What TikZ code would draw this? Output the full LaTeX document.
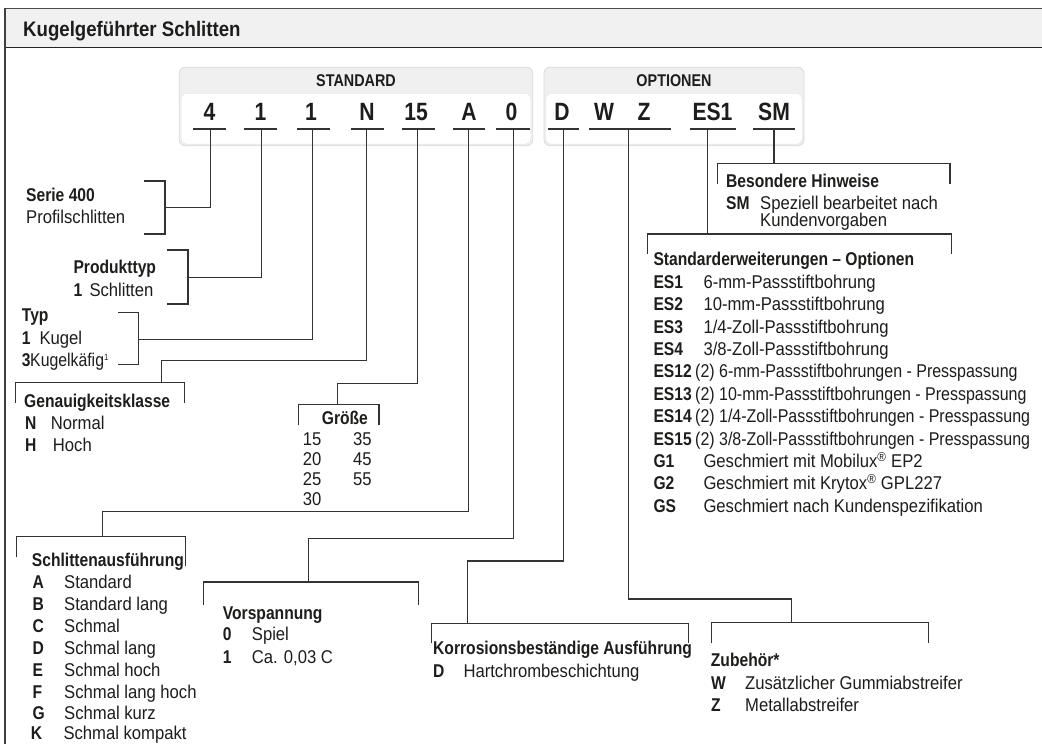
\documentclass[tikz,border=0pt]{standalone}
\usepackage{fontspec}
\usepackage{graphicx}
\setmainfont{Liberation Sans}[UprightFeatures={FakeStretch=0.9},BoldFeatures={FakeStretch=0.845}]
\definecolor{linec}{HTML}{333333}
\definecolor{txtc}{HTML}{1D1D1B}
\definecolor{bandc}{HTML}{F1F1F2}
\definecolor{panelc}{HTML}{F0F0F1}
\definecolor{panelb}{HTML}{DADADA}
\begin{document}
\begin{tikzpicture}[x=1pt,y=-1pt,
  ln/.style={draw=linec, line width=1.1pt},
  tx/.style={anchor=base west, inner sep=0pt, font=\fontsize{18.5}{21}\selectfont, text=txtc},
  hd/.style={anchor=base west, inner sep=0pt, font=\fontsize{18.5}{21}\selectfont\bfseries, text=txtc},
  cd/.style={anchor=base, inner sep=0pt, font=\fontsize{25}{28}\selectfont\bfseries, text=txtc},
  pl/.style={anchor=base, inner sep=0pt, font=\fontsize{17}{20}\selectfont\bfseries, text=txtc},
  ul/.style={draw=linec, line width=1.1pt},
  panel/.style={fill=panelc, draw=panelb, line width=0.8pt, rounded corners=6pt},
  inner/.style={fill=white, draw=panelb!60, line width=0.6pt, rounded corners=6pt}]
\useasboundingbox (0,0) rectangle (1042,744);
\fill[white] (0,0) rectangle (1042,744);
% frame and title band
\fill[bandc] (5,8.3) rectangle (1042,47);
\draw[draw=black!70, line width=1.3pt] (5,8.3) -- (1042,8.3);
\draw[draw=black!85, line width=1pt] (5,47) -- (1042,47);
\draw[draw=black!75, line width=2pt] (5,7.5) -- (5,744);
\node[anchor=base west, inner sep=0pt, font=\fontsize{21}{24}\selectfont\bfseries, text=txtc] (title) at (23,36.5) {\scalebox{1.05}[1]{Kugelgeführter Schlitten}};
% panels
\path[panel] (179.3,67.3) rectangle (532.7,145.7);
\path[inner] (181,93.3) rectangle (531,144.2);
\path[panel] (544,67.3) rectangle (804,145.7);
\path[inner] (545.7,93.3) rectangle (802.3,144.2);
\node[pl] (std) at (356,86.5) {STANDARD};
\node[pl] (opt) at (674,86.5) {OPTIONEN};
% code letters
\node[cd] (c4) at (209.5,120) {4};
\node[cd] (c1a) at (260.5,120) {1};
\node[cd] (c1b) at (311,120) {1};
\node[cd] (cN) at (367,120) {N};
\node[cd] (c15) at (416,120) {15};
\node[cd] (cA) at (469,120) {A};
\node[cd] (c0) at (511.5,120) {0};
\node[cd] (cD) at (562,120) {D};
\node[cd] (cW) at (604,120) {W};
\node[cd] (cZ) at (644,120) {Z};
\node[cd] (cES) at (712.5,120) {ES1};
\node[cd] (cSM) at (774,120) {SM};
% underlines
\draw[ul] (193,129) -- (226,129);
\draw[ul] (244,129) -- (277,129);
\draw[ul] (297,129) -- (329.5,129);
\draw[ul] (351,129) -- (383.5,129);
\draw[ul] (402,129) -- (435,129);
\draw[ul] (453,129) -- (485,129);
\draw[ul] (496,129) -- (529.5,129);
\draw[ul] (548,129) -- (579,129);
\draw[ul] (589,129) -- (671,129);
\draw[ul] (690,129) -- (736,129);
\draw[ul] (753,129) -- (795,129);
% stem coordinates
\coordinate (s4) at (210.7,129);
\coordinate (s1a) at (261.7,129);
\coordinate (s1b) at (312.7,129);
\coordinate (sN) at (366.7,129);
\coordinate (s15) at (417.7,129);
\coordinate (sA) at (468.3,129);
\coordinate (s0) at (513.3,129);
\coordinate (sD) at (563.3,129);
\coordinate (sWZ) at (628.7,129);
\coordinate (sES) at (707.7,129);
\coordinate (sSM) at (774,129);
% junction coordinates
\coordinate (jSer) at (165,207.3);
\coordinate (jPro) at (188,277.3);
\coordinate (jTyp) at (138.3,339.3);
\coordinate (jGen) at (161.7,382.3);
\coordinate (jGro) at (337.7,404.3);
\coordinate (jSch) at (102.7,536.7);
\coordinate (jVor) at (308.3,582);
\coordinate (jKor) at (467.7,623.3);
\coordinate (jZub) at (791.7,622.7);
\coordinate (jStd) at (707.7,234);
\coordinate (jBes) at (774,163.3);
% brackets
\draw[ln] (144,181) -- (165,181) -- (165,234) -- (144,234);
\draw[ln] (167,250) -- (188,250) -- (188,304) -- (167,304);
\draw[ln] (118.3,312.3) -- (138.3,312.3) -- (138.3,364.3) -- (118.3,364.3);
\draw[ln] (15.7,402.7) -- (15.7,382.3) -- (184.3,382.3) -- (184.3,402.7);
\draw[ln] (298.3,425) -- (298.3,404.3) -- (379,404.3) -- (379,425);
\draw[ln] (16.7,557.3) -- (16.7,536.7) -- (185.7,536.7) -- (185.7,566);
\draw[ln] (203.3,605) -- (203.3,582) -- (418.3,582) -- (418.3,605);
\draw[ln] (431.7,643.3) -- (431.7,623.3) -- (688.7,623.3) -- (688.7,643.3);
\draw[ln] (711.7,643.3) -- (711.7,622.7) -- (928.3,622.7) -- (928.3,643.3);
\draw[ln] (647.3,254) -- (647.3,234) -- (951.7,234) -- (951.7,254);
\draw[ln] (717.3,184) -- (717.3,163.3) -- (950,163.3) -- (950,184);
% connectors
\draw[ln] (jSer) -| (s4);
\draw[ln] (jPro) -| (s1a);
\draw[ln] (jTyp) -| (s1b);
\draw[ln] (jGen) -- (161.7,360.7) -| (sN);
\draw[ln] (jGro) -- (337.7,383.3) -| (s15);
\draw[ln] (jSch) -- (102.7,511.7) -| (sA);
\draw[ln] (jVor) -- (308.3,538.3) -| (s0);
\draw[ln] (jKor) -- (467.7,561) -| (sD);
\draw[ln] (jZub) -- (791.7,599) -| (sWZ);
\draw[ln] (jStd) -- (sES);
\draw[ln] (jBes) -- (sSM);
% Serie 400
\node[hd] (serH) at (26,201) {Serie 400};
\node[tx] (serT) at (26,223) {Profilschlitten};
% Produkttyp
\node[hd] (proH) at (73.3,273) {Produkttyp};
\node[hd] (proC) at (73.3,296.5) {1};
\node[tx] (proT) at (89.3,296.5) {Schlitten};
% Typ
\node[hd] (typH) at (21.7,321) {Typ};
\node[hd] (typC1) at (21.7,344.5) {1};
\node[tx] (typT1) at (39.3,344.5) {Kugel};
\node[hd] (typC3) at (21.7,366.5) {3};
\node[tx] (typT3) at (30,366.5) {\scalebox{0.95}[1]{Kugelkäfig\textsuperscript{\fontsize{9}{10}\selectfont 1}}};
% Genauigkeitsklasse
\node[hd] (genH) at (24,407.8) {Genauigkeitsklasse};
\node[hd] (genC1) at (25,429.5) {N};
\node[tx] (genT1) at (50.7,429.5) {Normal};
\node[hd] (genC2) at (25,451.5) {H};
\node[tx] (genT2) at (52.7,451.5) {Hoch};
% Groesse
\node[hd] (groH) at (321.7,424.5) {Größe};
\node[tx] (g15) at (302.7,445) {15};
\node[tx] (g35) at (353,445) {35};
\node[tx] (g20) at (302.7,465.3) {20};
\node[tx] (g45) at (353,465.3) {45};
\node[tx] (g25) at (302.7,485.6) {25};
\node[tx] (g55) at (353,485.6) {55};
\node[tx] (g30) at (302.7,505.9) {30};
% Schlittenausfuehrung
\node[hd] (schH) at (31.7,566) {Schlittenausführung};
\node[hd] (schCA) at (32.3,588) {A};
\node[tx] (schTA) at (64,588) {Standard};
\node[hd] (schCB) at (32.3,610) {B};
\node[tx] (schTB) at (64,610) {Standard lang};
\node[hd] (schCC) at (32.3,632) {C};
\node[tx] (schTC) at (64,632) {Schmal};
\node[hd] (schCD) at (32.3,654) {D};
\node[tx] (schTD) at (64,654) {Schmal lang};
\node[hd] (schCE) at (32.3,676) {E};
\node[tx] (schTE) at (64,676) {Schmal hoch};
\node[hd] (schCF) at (32.3,698) {F};
\node[tx] (schTF) at (64,698) {Schmal lang hoch};
\node[hd] (schCG) at (32.3,719.5) {G};
\node[tx] (schTG) at (64,719.5) {Schmal kurz};
\node[hd] (schCK) at (30.7,739) {K};
\node[tx] (schTK) at (63.3,739) {Schmal kompakt};
% Vorspannung
\node[hd] (vorH) at (222.7,619.2) {Vorspannung};
\node[hd] (vorC0) at (222.7,640.5) {0};
\node[tx] (vorT0) at (251.7,640.5) {Spiel};
\node[hd] (vorC1) at (222.7,663) {1};
\node[tx] (vorT1) at (251.7,663) {Ca. 0,03 C};
% Korrosion
\node[hd] (korH) at (433,654.8) {Korrosionsbeständige Ausführung};
\node[hd] (korC) at (433,677.5) {D};
\node[tx] (korT) at (463.3,677.5) {Hartchrombeschichtung};
% Zubehoer
\node[hd] (zubH) at (710.7,666.5) {Zubehör*};
\node[hd] (zubCW) at (711,689.8) {W};
\node[tx] (zubTW) at (745,689.8) {Zusätzlicher Gummiabstreifer};
\node[hd] (zubCZ) at (711,711.5) {Z};
\node[tx] (zubTZ) at (745,711.5) {Metallabstreifer};
% Besondere Hinweise
\node[hd] (besH) at (726,187) {Besondere Hinweise};
\node[hd] (besC) at (726,209) {SM};
\node[tx] (besT1) at (760,209) {Speziell bearbeitet nach};
\node[tx] (besT2) at (760,226.5) {Kundenvorgaben};
% Standarderweiterungen
\node[hd] (ergH) at (653.3,265.5) {Standarderweiterungen – Optionen};
\node[hd] (ergC1) at (653.3,288.2) {ES1};
\node[tx] (ergT1) at (703.3,288.2) {6-mm-Passstiftbohrung};
\node[hd] (ergC2) at (653.3,310.6) {ES2};
\node[tx] (ergT2) at (703.3,310.6) {10-mm-Passstiftbohrung};
\node[hd] (ergC3) at (653.3,333) {ES3};
\node[tx] (ergT3) at (703.3,333) {1/4-Zoll-Passstiftbohrung};
\node[hd] (ergC4) at (653.3,355.4) {ES4};
\node[tx] (ergT4) at (703.3,355.4) {3/8-Zoll-Passstiftbohrung};
\node[hd] (ergC12) at (653.3,377.8) {ES12};
\node[tx] (ergT12) at (695,377.8) {\scalebox{0.96}[1]{(2) 6-mm-Passstiftbohrungen - Presspassung}};
\node[hd] (ergC13) at (653.3,400.2) {ES13};
\node[tx] (ergT13) at (695,400.2) {\scalebox{0.96}[1]{(2) 10-mm-Passstiftbohrungen - Presspassung}};
\node[hd] (ergC14) at (653.3,422.6) {ES14};
\node[tx] (ergT14) at (695,422.6) {\scalebox{0.96}[1]{(2) 1/4-Zoll-Passstiftbohrungen - Presspassung}};
\node[hd] (ergC15) at (653.3,445) {ES15};
\node[tx] (ergT15) at (695,445) {\scalebox{0.96}[1]{(2) 3/8-Zoll-Passstiftbohrungen - Presspassung}};
\node[hd] (ergCG1) at (653.3,467.4) {G1};
\node[tx] (ergTG1) at (703.3,467.4) {Geschmiert mit Mobilux\textsuperscript{\textregistered} EP2};
\node[hd] (ergCG2) at (653.3,489.8) {G2};
\node[tx] (ergTG2) at (703.3,489.8) {Geschmiert mit Krytox\textsuperscript{\textregistered} GPL227};
\node[hd] (ergCGS) at (653.3,512.2) {GS};
\node[tx] (ergTGS) at (703.3,512.2) {Geschmiert nach Kundenspezifikation};
\end{tikzpicture}
\end{document}
